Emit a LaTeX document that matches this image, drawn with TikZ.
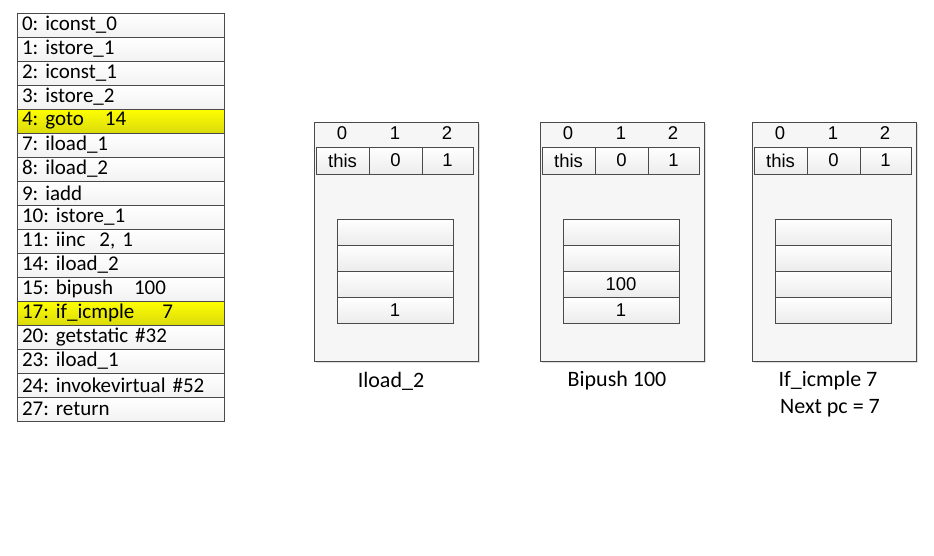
\documentclass[tikz,border=0pt]{standalone}
\usepackage{fontspec}
\setmainfont{Carlito}
\newfontfamily\cellfont{Liberation Sans}
\usetikzlibrary{shadows}
\definecolor{linegray}{HTML}{4A4A4A}
\definecolor{hilite}{HTML}{FFFF00}
\frenchspacing

\begin{document}
\begin{tikzpicture}[x=1pt,y=-1pt,
    every node/.style={inner sep=0pt,outer sep=0pt},
    oprow/.style={draw=linegray,anchor=north west,minimum height=24pt,text width=197pt,inner xsep=5pt,align=left,top color=white,bottom color=gray!10,font=\fontsize{21}{23}\selectfont},
    oprowhi/.style={oprow,top color=hilite,bottom color=hilite!85!black!95},
    framebox/.style={draw=linegray,anchor=north west,minimum width=164pt,minimum height=239pt,fill=gray!7,drop shadow={shadow xshift=2pt,shadow yshift=-2pt,opacity=.25}},
    idx/.style={font=\cellfont\fontsize{18.5}{20}\selectfont},
    local/.style={draw=linegray,anchor=north west,minimum height=27pt,top color=white,bottom color=gray!15,font=\cellfont\fontsize{18.5}{20}\selectfont},
    slot/.style={draw=linegray,anchor=north west,minimum width=116pt,minimum height=26pt,top color=white,bottom color=gray!15,font=\cellfont\fontsize{18.5}{20}\selectfont},
    caption/.style={font=\fontsize{22}{25}\selectfont}]
  \useasboundingbox (0,0) rectangle (934,555);
  % bytecode listing
  \foreach \i/\op in {0/{0: iconst\_0},1/{1: istore\_1},2/{2: iconst\_1},3/{3: istore\_2},
      5/{7: iload\_1},6/{8: iload\_2},7/{9: iadd},8/{10: istore\_1},9/{11: iinc\ \ 2, 1},
      10/{14: iload\_2},11/{15: bipush\ \ \ 100},13/{20: getstatic \#32},14/{23: iload\_1},
      15/{24: invokevirtual \#52},16/{27: return}}
    \node[oprow] (r\i) at (17,13+24*\i) {\op};
  \node[oprowhi] (r4) at (17,13+24*4) {4: goto\ \ \ 14};
  \node[oprowhi] (r12) at (17,13+24*12) {17: if\_icmple\ \ \ \ 7};
  % frames
  \foreach \x/\n/\sa/\sb in {314/1/{}/1,540/2/100/1,752/3/{}/{}}{
    \node[framebox] (f\n) at (\x,122) {};
    \node[idx] (f\n-i0) at (\x+28,133) {0};
    \node[idx] (f\n-i1) at (\x+81,133) {1};
    \node[idx] (f\n-i2) at (\x+133,133) {2};
    \node[local,minimum width=53pt] (f\n-l0) at (\x+2,147) {this};
    \node[local,minimum width=53pt] (f\n-l1) at (\x+55,147) {0};
    \node[local,minimum width=51pt] (f\n-l2) at (\x+108,147) {1};
    \node[slot] (f\n-s0) at (\x+23,219) {};
    \node[slot] (f\n-s1) at (\x+23,245) {};
    \node[slot] (f\n-s2) at (\x+23,271) {\sa};
    \node[slot] (f\n-s3) at (\x+23,297) {\sb};
  }
  \node[caption] (c1) at (391,381) {Iload\_2};
  \node[caption] (c2) at (617,381) {Bipush 100};
  \node[caption] (c3) at (828,381) {If\_icmple 7};
  \node[caption] (c4) at (830,408) {Next pc = 7};
\end{tikzpicture}
\end{document}
